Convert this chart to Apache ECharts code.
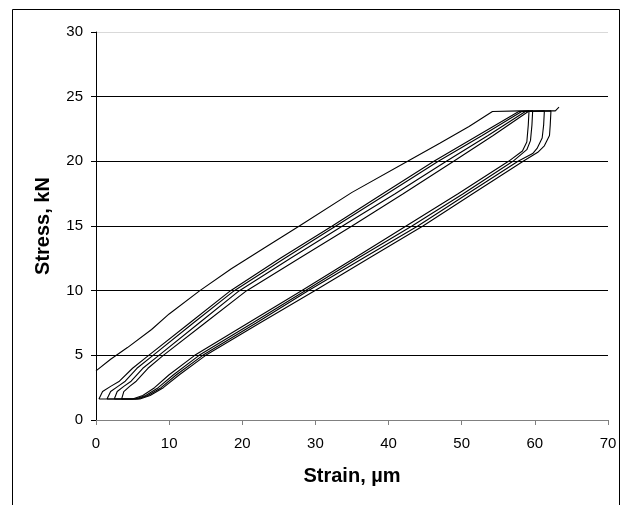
<!DOCTYPE html>
<html>
<head>
<meta charset="utf-8">
<script src="https://cdn.jsdelivr.net/npm/echarts@6/dist/echarts.min.js"></script>
<style>
  html, body { margin: 0; padding: 0; background: #fff; }
  #chart { width: 630px; height: 505px; }
</style>
</head>
<body>
<div id="chart"></div>
<script>
// strain (µm), stress (kN) pairs
const initialLoad = [
  [0, 3.8], [2, 4.7], [4.3, 5.6], [7.6, 7.0], [10, 8.2], [14.2, 10.0], [18.5, 11.7],
  [23, 13.3], [27.8, 15.0], [35, 17.6], [42.6, 20.0], [47, 21.4], [51, 22.7],
  [54.2, 23.85], [58, 23.9], [62.8, 23.9], [63.3, 24.2]
]

const cycle1 = [
  [0.4, 1.62], [0.9, 2.2], [2.0, 2.6], [3.2, 3.0], [5.0, 4.0], [7.2, 5.0], [12.8, 7.5],
  [18.4, 10], [25.2, 12.5], [32.3, 15], [39.2, 17.5], [46.2, 20], [52.2, 22], [57.8, 23.85],
  [59.2, 23.9], [59.1, 22.8], [58.9, 21.5], [58.3, 20.8],
  [56.4, 20], [49.5, 17.5], [42.4, 15], [35.3, 12.5], [28.1, 10], [20.8, 7.5], [13.5, 5],
  [10.0, 3.5], [8.0, 2.5], [6.4, 1.9], [5.0, 1.62], [0.4, 1.62]
]

const cycle2 = [
  [1.5, 1.62], [2.0, 2.2], [3.0, 2.6], [4.0, 3.0], [5.6, 4.0], [7.8, 5.0], [13.3, 7.5],
  [18.9, 10], [25.8, 12.5], [32.8, 15], [39.8, 17.5], [46.8, 20], [52.8, 22], [58.2, 23.85],
  [59.7, 23.9], [59.6, 22.8], [59.4, 21.6], [58.9, 20.9],
  [57.0, 20], [50.2, 17.5], [43.2, 15], [35.8, 12.5], [28.6, 10], [21.4, 7.5], [14.1, 5],
  [10.6, 3.5], [8.5, 2.5], [6.8, 1.9], [5.4, 1.62], [1.5, 1.62]
]

const cycle3 = [
  [2.5, 1.62], [2.9, 2.2], [3.8, 2.6], [4.8, 3.0], [6.4, 4.0], [8.6, 5.0], [14.1, 7.5],
  [19.6, 10], [26.6, 12.5], [33.7, 15], [40.9, 17.5], [47.9, 20], [53.6, 22], [58.7, 23.85],
  [61.3, 23.9], [61.2, 22.8], [61.0, 21.8], [60.3, 21.0], [59.7, 20.6],
  [57.7, 20], [50.8, 17.5], [44.0, 15], [36.5, 12.5], [29.0, 10], [21.9, 7.5], [14.6, 5],
  [11.0, 3.5], [8.9, 2.5], [7.1, 1.9], [5.7, 1.62], [2.5, 1.62]
]

const cycle4 = [
  [3.5, 1.62], [3.8, 2.2], [4.6, 2.6], [5.5, 3.0], [7.1, 4.0], [9.2, 5.0], [14.9, 7.5],
  [20.6, 10], [27.8, 12.5], [35.0, 15], [42.0, 17.5], [48.9, 20], [54.3, 22], [59.1, 23.85],
  [62.2, 23.9], [62.1, 22.8], [62.0, 22.0], [61.3, 21.2], [60.4, 20.7],
  [58.4, 20], [51.5, 17.5], [44.7, 15], [37.3, 12.5], [29.9, 10], [22.4, 7.5], [15.0, 5],
  [11.4, 3.5], [9.2, 2.5], [7.4, 1.9], [6.0, 1.62], [3.5, 1.62]
]

const curves = [initialLoad, cycle1, cycle2, cycle3, cycle4]

// gridline colours for 0,5,...,30 (top one is faint)
const gridColors = ['#000', '#000', '#000', '#000', '#000', '#000', '#d9d9d9']

const font = 'Liberation Sans, Arial, sans-serif'

let chart = echarts.init(document.getElementById('chart'), null, { renderer: 'canvas' })

chart.setOption({
  animation: false,
  backgroundColor: '#fff',
  grid: {
    left: 96, right: 22, top: 32, bottom: 85,
    containLabel: false,
    outerBoundsMode: 'none'
  },
  graphic: [{
    type: 'rect',
    shape: { x: 12.5, y: 9.5, width: 607, height: 520 },
    style: { fill: 'none', stroke: '#000', lineWidth: 1 },
    silent: true
  }],
  xAxis: {
    type: 'value',
    min: 0, max: 70, interval: 10,
    name: 'Strain, µm',
    nameLocation: 'middle',
    nameGap: 46,
    nameTextStyle: { fontFamily: font, fontSize: 20, fontWeight: 'bold', color: '#000' },
    axisLine: { show: true, onZero: false, lineStyle: { color: '#808080', width: 1 } },
    axisTick: { show: true, inside: false, length: 5, lineStyle: { color: '#808080' } },
    axisLabel: { fontFamily: font, fontSize: 15, color: '#000', margin: 16 },
    splitLine: { show: false }
  },
  yAxis: {
    type: 'value',
    min: 0, max: 30, interval: 5,
    name: 'Stress, kN',
    nameLocation: 'middle',
    nameGap: 43,
    nameTextStyle: { fontFamily: font, fontSize: 20, fontWeight: 'bold', color: '#000' },
    axisLine: { show: true, lineStyle: { color: '#000', width: 1 } },
    axisTick: { show: true, inside: false, length: 5, lineStyle: { color: '#000' } },
    axisLabel: { fontFamily: font, fontSize: 15, color: '#000', margin: 13 },
    splitLine: { show: true, lineStyle: { color: gridColors, width: 1 } }
  },
  series: curves.map(function (pts) {
    return {
      type: 'line',
      data: pts,
      showSymbol: false,
      smooth: false,
      lineStyle: { color: '#000', width: 1.1 },
      silent: true
    }
  })
})
</script>
</body>
</html>
